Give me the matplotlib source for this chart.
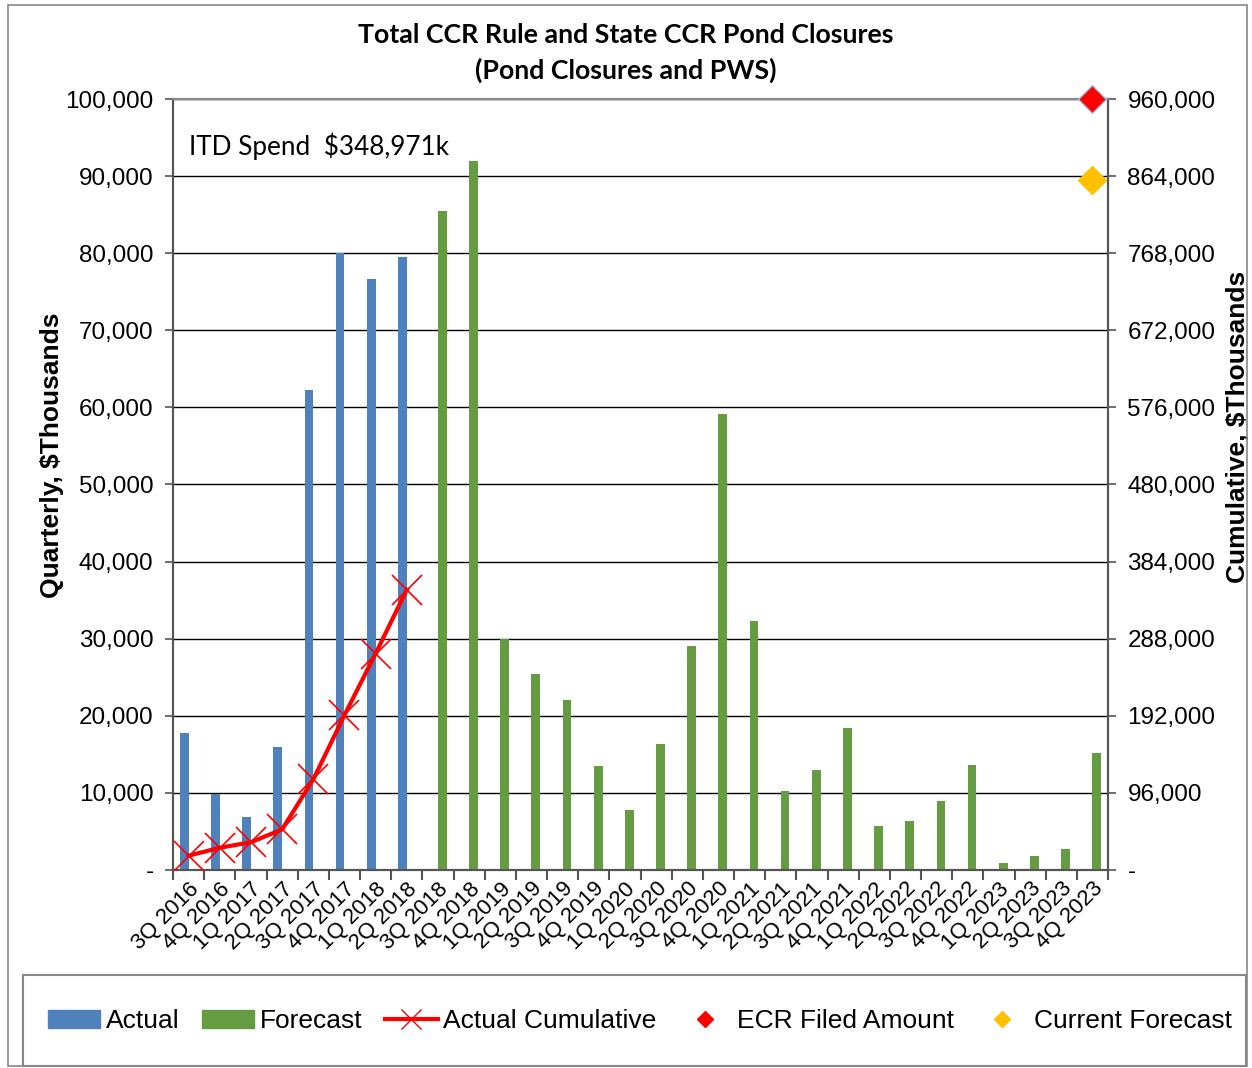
import matplotlib
matplotlib.use("Agg")
import matplotlib.pyplot as plt
import numpy as np
from matplotlib.patches import Rectangle, Patch
from matplotlib.lines import Line2D
from matplotlib.ticker import FuncFormatter

quarters = ["3Q 2016", "4Q 2016", "1Q 2017", "2Q 2017", "3Q 2017", "4Q 2017",
            "1Q 2018", "2Q 2018", "3Q 2018", "4Q 2018", "1Q 2019", "2Q 2019",
            "3Q 2019", "4Q 2019", "1Q 2020", "2Q 2020", "3Q 2020", "4Q 2020",
            "1Q 2021", "2Q 2021", "3Q 2021", "4Q 2021", "1Q 2022", "2Q 2022",
            "3Q 2022", "4Q 2022", "1Q 2023", "2Q 2023", "3Q 2023", "4Q 2023"]

# quarterly spend, $ thousands
actual = [17800, 9900, 6900, 16000, 62200, 80000, 76700, 79500]
forecast = [85500, 92000, 30000, 25400, 22000, 13500, 7800, 16400, 29100, 59100,
            32300, 10200, 13000, 18400, 5700, 6300, 9000, 13600, 900, 1800,
            2700, 15200]
# cumulative (right axis)
actual_cum = [17800, 27700, 34600, 50600, 112800, 192800, 269500, 348971]
ecr_filed = 960000
current_fc = 859000

blue = "#4F81BD"
green = "#659B41"
red = "#FF0000"
gold = "#FFC000"

x = np.arange(len(quarters))
n_act = len(actual)
bw = 0.28

fig = plt.figure(figsize=(12.52, 10.68), dpi=100)
ax = fig.add_axes([0.1382, 0.1854, 0.7468, 0.7219])
ax2 = ax.twinx()

ax.bar(x[:n_act] - bw / 2, actual, width=bw, color=blue, zorder=3)
ax.bar(x[n_act:] + bw / 2, forecast, width=bw, color=green, zorder=3)

ax2.plot(x[:n_act], actual_cum, color=red, lw=3, marker="x", ms=22, mew=1.2, zorder=4)
ax2.plot([x[-1]], [ecr_filed], marker="D", ms=14, color=red, mec="#9DC3E6", mew=1,
         ls="none", clip_on=False, zorder=5)
ax2.plot([x[-1]], [current_fc], marker="D", ms=14, color=gold, mec=gold,
         ls="none", clip_on=False, zorder=5)

ax.set_xlim(-0.5, len(quarters) - 0.5)
ax.set_ylim(0, 100000)
ax2.set_ylim(0, 960000)
ax.set_yticks(np.arange(0, 100001, 10000))
ax2.set_yticks(np.arange(0, 960001, 96000))

fmt = FuncFormatter(lambda v, p: "-" if v == 0 else f"{int(v):,}")
ax.yaxis.set_major_formatter(fmt)
ax2.yaxis.set_major_formatter(fmt)

ax.grid(axis="y", color="black", lw=1, zorder=0)
ax.set_axisbelow(True)

ax.set_xticks(x)
ax.set_xticklabels(quarters, rotation=45, ha="right", va="top",
                   rotation_mode="anchor", fontsize=16, family="Liberation Sans")
ax.tick_params(axis="x", length=0, pad=6)
ax.set_xticks(np.arange(-0.5, len(quarters), 1), minor=True)
ax.tick_params(axis="x", which="minor", length=7, width=1.5, color="#555555")

for a in (ax, ax2):
    a.tick_params(axis="y", labelsize=17.5, length=6, width=1.2, color="#555555", pad=8)
    for lbl in a.get_yticklabels():
        lbl.set_family("Liberation Sans")
    for s in a.spines.values():
        s.set_color("#555555")
        s.set_linewidth(1.5)
ax.spines["bottom"].set_color("black")
ax.spines["top"].set_color("#888888")
ax2.spines["top"].set_color("#888888")

ax.set_ylabel("Quarterly, $Thousands", fontsize=19, fontweight="bold",
              family="Liberation Sans")
ax.yaxis.set_label_coords(-0.117, 0.538)
ax2.set_ylabel("Cumulative, $Thousands", fontsize=19, fontweight="bold",
               family="Liberation Sans")
ax2.yaxis.set_label_coords(1.126, 0.575)

fig.text(0.5, 0.967, "Total CCR Rule and State CCR Pond Closures", ha="center",
         va="center", fontsize=19.3, fontweight="bold", family="Lato")
fig.text(0.5, 0.934, "(Pond Closures and PWS)", ha="center", va="center",
         fontsize=19.3, fontweight="bold", family="Lato")
ax.text(0.017, 0.939, "ITD Spend  $348,971k", transform=ax.transAxes, fontsize=18.8,
        family="Lato", va="center", ha="left")

# outer border and legend box
fig.patches.append(Rectangle((0.006, 0.002), 0.99, 0.993, transform=fig.transFigure,
                             fill=False, ec="#888888", lw=1.2))
fig.patches.append(Rectangle((0.018, 0.002), 0.977, 0.085, transform=fig.transFigure,
                             fill=False, ec="#888888", lw=1.5))

handles = [Patch(color=blue), Patch(color=green),
           Line2D([], [], color=red, lw=3, marker="x", ms=14, mew=1),
           Line2D([], [], color=red, marker="D", ms=8, ls="none"),
           Line2D([], [], color=gold, marker="D", ms=8, ls="none")]
labels = ["Actual", "Forecast", "Actual Cumulative", "ECR Filed Amount", "Current Forecast"]
fig.legend(handles, labels, loc="center", bbox_to_anchor=(0.511, 0.044), ncol=5,
           frameon=False, prop={"family": "Liberation Sans", "size": 19},
           handlelength=2.0, handletextpad=0.2, columnspacing=0.85)

fig.savefig("out.png", dpi=100)
